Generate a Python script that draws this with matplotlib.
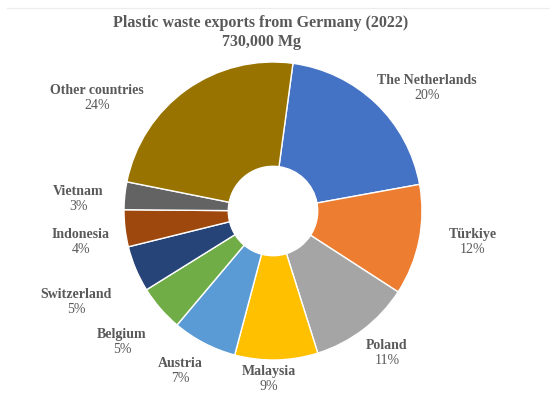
import matplotlib
matplotlib.use("Agg")
import matplotlib.pyplot as plt
from matplotlib.lines import Line2D

countries = ['The Netherlands', 'Türkiye', 'Poland', 'Malaysia', 'Austria',
             'Belgium', 'Switzerland', 'Indonesia', 'Vietnam', 'Other countries']
shares = [20, 12, 11, 9, 7, 5, 5, 4, 3, 24]
colors = ['#4472C4', '#ED7D31', '#A5A5A5', '#FFC000', '#5B9BD5',
          '#70AD47', '#264478', '#9E480E', '#636363', '#997300']

# label centres in pixels of the 550x399 picture (layout only)
label_px = [(427, 88), (473, 242), (387, 353), (269, 379), (180, 371),
            (122, 342), (76, 302), (81, 242), (78, 199), (97, 98)]

cx, cy, r = 273, 211, 149
W, H = 550, 399

plt.rcParams['font.family'] = ['Liberation Serif', 'DejaVu Serif']
txt = '#595959'

fig = plt.figure(figsize=(5.5, 3.99), dpi=100)
ax = fig.add_axes([(cx - r) / W, (H - cy - r) / H, 2 * r / W, 2 * r / H])
ax.pie(shares, colors=colors, startangle=82.3, counterclock=False, radius=1,
       wedgeprops=dict(width=0.7, edgecolor='white', linewidth=1.0))
ax.set_xlim(-1, 1)
ax.set_ylim(-1, 1)
ax.set_aspect('equal')
ax.axis('off')

for name, val, (px, py) in zip(countries, shares, label_px):
    x = (px - cx) / r
    y = (cy - py) / r
    ax.text(x, y + 0.052, name, ha='center', va='center', fontsize=10,
            fontweight='bold', color=txt, clip_on=False)
    ax.text(x, y - 0.052, f'{val}%', ha='center', va='center', fontsize=10,
            color=txt, clip_on=False)

fig.text(261 / W, 1 - 23 / H, 'Plastic waste exports from Germany (2022)',
         ha='center', va='center', fontsize=11.5, fontweight='bold', color=txt)
fig.text(261 / W, 1 - 42 / H, '730,000 Mg', ha='center', va='center',
         fontsize=11.5, fontweight='bold', color=txt)

fig.add_artist(Line2D([7 / W, 1], [1 - 8 / H, 1 - 8 / H], color='#ececec', lw=0.8))

fig.savefig('out.png', dpi=100)
